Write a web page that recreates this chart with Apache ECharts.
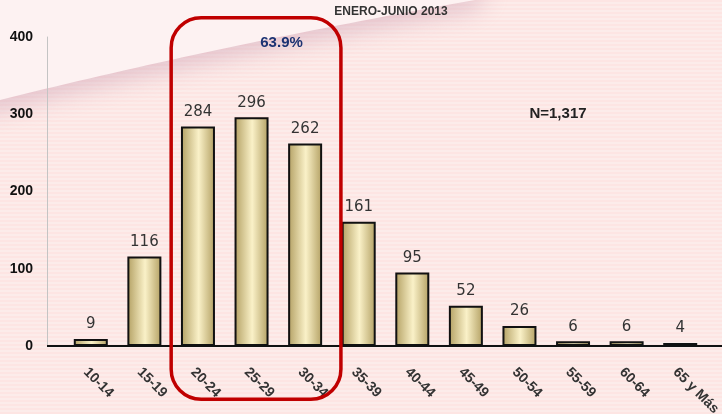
<!DOCTYPE html>
<html><head><meta charset="utf-8">
<script src="https://cdn.jsdelivr.net/npm/echarts@6/dist/echarts.min.js"></script>
<style>html,body{margin:0;padding:0;background:#fde8e6}#c{width:722px;height:414px}</style>
</head><body><div id="c"></div>
<script>
const categories = ['10-14','15-19','20-24','25-29','30-34','35-39','40-44','45-49','50-54','55-59','60-64','65 y Más'];
const values = [9,116,284,296,262,161,95,52,26,6,6,4];
const yTicks = [0,100,200,300,400];
const titleText = 'ENERO-JUNIO 2013';
const highlightText = '63.9%';
const totalText = 'N=1,317';
const highlightFrom = '20-24';
const highlightTo = '30-34';

const chart = echarts.init(document.getElementById('c'), null, {renderer: 'canvas'});

// stripe pattern for background
const pc = document.createElement('canvas');
pc.width = 4; pc.height = 4;
const pctx = pc.getContext('2d');
pctx.fillStyle = '#fde5e3'; pctx.fillRect(0,0,4,2);
pctx.fillStyle = '#fcecea'; pctx.fillRect(0,2,4,2);

// decorative sweep curve (quadratic) in the background
const sweepPts = [[-20,-20],[-20,106]];
for (let k = 0; k <= 40; k++) {
  const t = k/40;
  sweepPts.push([2*(1-t)*t*220 + t*t*475, (1-t)*(1-t)*100 + 2*(1-t)*t*45]);
}
sweepPts.push([490,-20]);

const barGradient = new echarts.graphic.LinearGradient(0,0,1,0,[
  {offset:0, color:'#b3a063'},
  {offset:0.52, color:'#faf1c8'},
  {offset:1, color:'#b3a063'}
]);

const baseGraphic = [
  {id:'bg', type:'rect', z:-10, silent:true, shape:{x:0,y:0,width:722,height:414}, style:{fill:{image:pc, repeat:'repeat'}}},
  {id:'sweep', type:'polygon', z:-9, silent:true,
   shape:{points:sweepPts},
   style:{fill:'#fdf2f2', shadowBlur:22, shadowColor:'rgba(200,150,172,0.45)', shadowOffsetY:10}},
  {id:'title', type:'text', x: 391, y: 12, z:5,
   style:{text:titleText, fill:'#333', font:'bold 12px "Liberation Sans", Arial, sans-serif', align:'center', verticalAlign:'middle'}},
  {id:'ntext', type:'text', x: 558, y: 114, z:5,
   style:{text:totalText, fill:'#222', font:'bold 15px "Liberation Sans", Arial, sans-serif', align:'center', verticalAlign:'middle'}}
];

const option = {
  animation:false,
  grid:{left:64, right:15, top:37, bottom:68, containLabel:false, outerBoundsMode:'none'},
  xAxis:{
    type:'category', data:categories,
    axisLine:{show:false}, axisTick:{show:false},
    axisLabel:{rotate:-45, margin:19, verticalAlign:'top', color:'#333', fontWeight:'bold', fontSize:14, fontFamily:'"Liberation Sans", Arial, sans-serif', interval:0}
  },
  yAxis:{
    type:'value', min:0, max:400, interval:100, offset:17,
    axisLine:{show:true, lineStyle:{color:'#c4c4c4', width:1}},
    axisTick:{show:false}, splitLine:{show:false},
    axisLabel:{margin:14, color:'#111', fontWeight:'bold', fontSize:14, fontFamily:'"Liberation Sans", Arial, sans-serif',
      formatter: v => yTicks.includes(v) ? String(v) : ''}
  },
  series:[{
    type:'bar', data:values, barWidth:34,
    itemStyle:{color:barGradient, borderColor:'#111', borderWidth:2},
    label:{show:true, position:'top', distance:7, color:'#333', fontSize:15, fontFamily:'"DejaVu Sans", Verdana, sans-serif'}
  }],
  graphic: baseGraphic
};
chart.setOption(option);

const i0 = categories.indexOf(highlightFrom), i1 = categories.indexOf(highlightTo);
const px = (i, v) => chart.convertToPixel({xAxisIndex:0, yAxisIndex:0}, [i, v]);
const bandW = px(1,0)[0] - px(0,0)[0];
const yZero = px(0,0)[1];
const leftX = px(i0,0)[0] - bandW/2;
const rightX = px(i1,0)[0] + bandW/2 + 9;
const topY = px(0,425)[1];
const botY = px(0,-69)[1];

chart.setOption({graphic: baseGraphic.concat([
  {id:'xline', type:'line', z:4, silent:true, shape:{x1:47, y1:yZero, x2:722, y2:yZero}, style:{stroke:'#111', lineWidth:2}},
  {id:'box', type:'rect', z:6, silent:true, shape:{x:leftX, y:topY, width:rightX-leftX, height:botY-topY, r:30},
   style:{fill:null, stroke:'#c00000', lineWidth:3.5}},
  {id:'pct', type:'text', z:6, x: px(i0+1,0)[0] + 30, y: px(0,393)[1],
   style:{text:highlightText, fill:'#1c3272', font:'bold 15px "Liberation Sans", Arial, sans-serif', align:'center', verticalAlign:'middle'}}
])});
</script></body></html>
